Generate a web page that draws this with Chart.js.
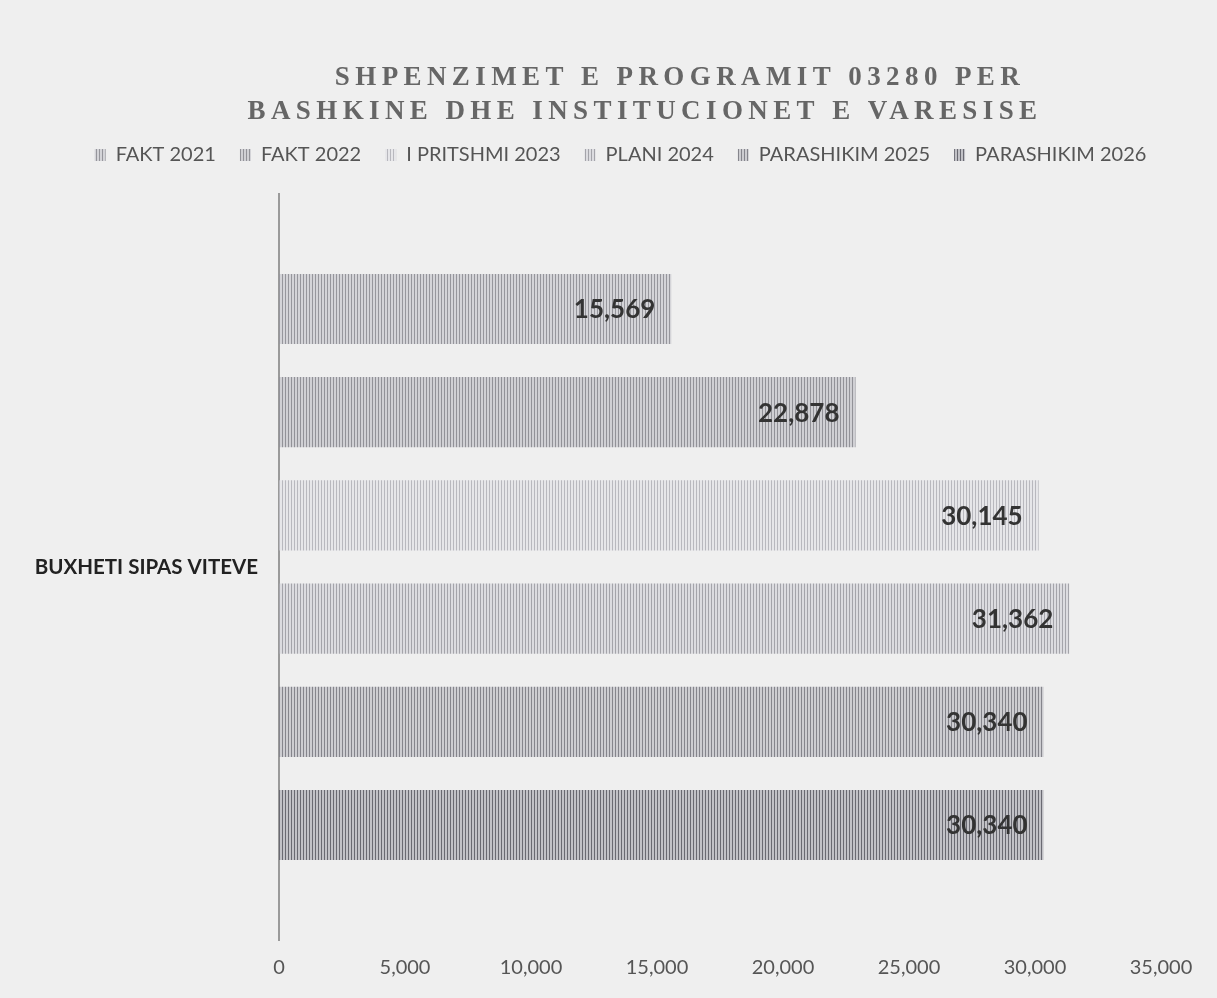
<!DOCTYPE html>
<html>
<head>
<meta charset="utf-8">
<script src="https://cdn.jsdelivr.net/npm/chart.js@4/dist/chart.umd.min.js"></script>
<style>
  body { margin: 0; background: #efefef; }
  #wrap { width: 1217px; height: 998px; position: relative; }
</style>
</head>
<body>
<div id="wrap"><canvas id="barChart"></canvas></div>
<script>
// Shpenzimet e programit 03280 - horizontal bars per year
const categories = ["BUXHETI SIPAS VITEVE"];
const seriesNames = ["FAKT 2021", "FAKT 2022", "I PRITSHMI 2023", "PLANI 2024", "PARASHIKIM 2025", "PARASHIKIM 2026"];
const seriesValues = [15569, 22878, 30145, 31362, 30340, 30340];
const titleLines = ["SHPENZIMET E PROGRAMIT 03280 PER", "BASHKINE DHE INSTITUCIONET E VARESISE"];
const xTicks = [0, 5000, 10000, 15000, 20000, 25000, 30000, 35000];

// stripe shades [dark line, light gap] per series
const stripeShades = [
  ["#96969c", "#d4d4d8"],
  ["#929298", "#d0d0d4"],
  ["#b8b8be", "#e6e6e9"],
  ["#a4a4aa", "#dcdce0"],
  ["#85858c", "#cdcdd1"],
  ["#6a6a72", "#c2c2c7"],
];

function stripes(dark, light) {
  const c = document.createElement("canvas");
  c.width = 3;
  c.height = 1;
  const g = c.getContext("2d");
  g.fillStyle = light;
  g.fillRect(0, 0, 3, 1);
  g.fillStyle = dark;
  g.fillRect(0, 0, 1, 1);
  return g.createPattern(c, "repeat");
}

const bgPlugin = {
  id: "bg",
  beforeDraw(chart) {
    const ctx = chart.ctx;
    ctx.save();
    ctx.fillStyle = "#efefef";
    ctx.fillRect(0, 0, chart.width, chart.height);
    ctx.restore();
  },
};

const titlePlugin = {
  id: "spacedTitle",
  afterDraw(chart) {
    const ctx = chart.ctx;
    ctx.save();
    ctx.font = "bold 27px 'Liberation Serif'";
    ctx.letterSpacing = "5.4px";
    ctx.fillStyle = "#666";
    ctx.textAlign = "center";
    ctx.textBaseline = "middle";
    ctx.fillText(titleLines[0], 680, 78);
    ctx.fillText(titleLines[1], 645, 112);
    ctx.restore();
  },
};

const valueLabels = {
  id: "valueLabels",
  afterDatasetsDraw(chart) {
    const ctx = chart.ctx;
    ctx.save();
    ctx.font = "bold 26px Lato";
    ctx.fillStyle = "#333";
    ctx.textAlign = "right";
    ctx.textBaseline = "middle";
    chart.data.datasets.forEach((ds, i) => {
      chart.getDatasetMeta(i).data.forEach((bar, j) => {
        ctx.fillText(ds.data[j].toLocaleString("en-US"), bar.x - 16, bar.y + 1);
      });
    });
    ctx.restore();
  },
};

// extra space under the legend and nudge it right like the original
const legendTweak = {
  id: "legendTweak",
  beforeInit(chart) {
    const fit = chart.legend.fit;
    chart.legend.fit = function () {
      fit.bind(chart.legend)();
      this.height += 19;
    };
  },
  afterLayout(chart) {
    chart.legend.left += 30;
    chart.legend.right += 30;
  },
};

const datasets = seriesNames.map((name, i) => ({
  label: name,
  data: [seriesValues[i]],
  backgroundColor: stripes(stripeShades[i][0], stripeShades[i][1]),
  borderWidth: 0,
  categoryPercentage: 0.83,
  barPercentage: 0.68,
}));

var barCtx = document.getElementById("barChart").getContext("2d");

var barChart = new Chart(barCtx, {
  type: "bar",
  data: { labels: categories, datasets: datasets },
  plugins: [bgPlugin, legendTweak, titlePlugin, valueLabels],
  options: {
    indexAxis: "y",
    responsive: true,
    maintainAspectRatio: false,
    animation: false,
    layout: { padding: { top: 121, left: 20, right: 56, bottom: 2 } },
    scales: {
      x: {
        min: 0,
        max: 35000,
        afterBuildTicks: (scale) => {
          scale.ticks = xTicks.map((v) => ({ value: v }));
        },
        grid: { display: false, drawTicks: false },
        border: { display: false },
        ticks: {
          padding: 16,
          color: "#555",
          font: { family: "Lato", size: 20 },
          callback: (v) => Number(v).toLocaleString("en-US"),
        },
      },
      y: {
        afterFit: (scale) => {
          scale.width = 259;
        },
        grid: { display: false, drawTicks: false },
        border: { display: true, color: "#9a9a9a", width: 2 },
        ticks: {
          padding: 21,
          color: "#222",
          font: { family: "Lato", size: 20.5, weight: "bold" },
        },
      },
    },
    plugins: {
      title: { display: false },
      tooltip: { enabled: false },
      legend: {
        position: "top",
        labels: {
          boxWidth: 11,
          boxHeight: 12,
          padding: 24,
          color: "#555",
          font: { family: "Lato", size: 20 },
        },
      },
    },
  },
});
</script>
</body>
</html>
